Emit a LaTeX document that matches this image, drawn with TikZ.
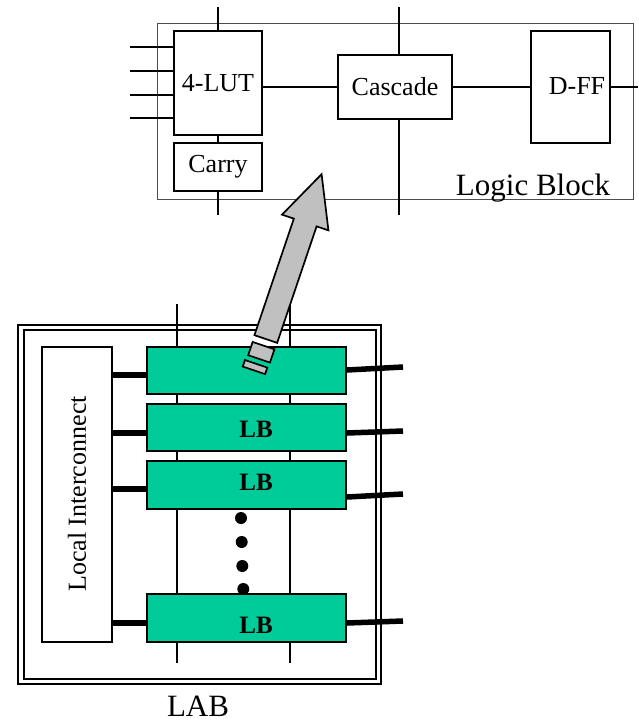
\documentclass[tikz,border=0pt]{standalone}
\usepackage{fontspec}
\setmainfont{Liberation Serif}
\definecolor{lbgreen}{HTML}{00CC99}
\definecolor{arrowgray}{HTML}{C0C0C0}
\begin{document}
\begin{tikzpicture}[x=1pt, y=-1pt,
    blk/.style={draw, line width=1.7pt, fill=white, inner sep=0pt,
                font=\fontsize{26}{28}\selectfont},
    blktext/.style={font=\fontsize{26}{28}\selectfont, inner sep=0pt},
    lbframe/.style={draw=black!70, line width=0.9pt, inner sep=0pt},
    labframe/.style={draw, double, line width=2.2pt,
                     double distance=3.3pt, inner sep=0pt},
    lbbox/.style={draw, fill=lbgreen, line width=2pt, inner sep=0pt,
                  minimum width=199pt},
    lbtext/.style={font=\fontsize{25}{27}\selectfont\bfseries, inner sep=0pt},
    bigtext/.style={font=\fontsize{31}{33}\selectfont, inner sep=0pt},
    wire/.style={line width=1.5pt},
    bus/.style={line width=5.5pt},
    ellipsisdot/.style={circle, fill, inner sep=0pt, minimum size=12pt},
    piece/.style={draw, fill=arrowgray, line width=1.7pt},
]
\useasboundingbox (0,0) rectangle (639,724);

% Logic block -- frame and through wires
\node[lbframe, minimum width=476pt, minimum height=176pt] (lblock) at (395,111) {};
\coordinate (lutTop)   at (218,7);
\coordinate (carryBot) at (218,215);
\coordinate (cascTop)  at (399,7);
\coordinate (cascBot)  at (399,215);
\coordinate (ffOut)    at (638,87);
\draw[wire] (cascTop) -- (cascBot);

% Logic block parts
\node[blk, minimum width=88pt, minimum height=104pt] (lut) at (218,83) {4-LUT};
\node[blk, minimum width=88pt, minimum height=48pt] (carry) at (218,167) {Carry};
\node[blk, minimum width=114pt, minimum height=64pt] (casc) at (395,87) {Cascade};
\node[blk, minimum width=79pt, minimum height=112pt] (dff) at (570.5,87) {};
\node[blktext] (dfftext) at (577,86) {D-FF};
\node[bigtext, anchor=base] (lbname) at (533,195) {Logic Block};

\draw[wire] (lutTop) -- (lut.north);
\draw[wire] (lut.south) -- (carry.north);
\draw[wire] (carry.south) -- (carryBot);
\draw[wire] (casc.west -| lut.east) -- (casc.west);
\draw[wire] (casc.east) -- (casc.east -| dff.west);
\draw[wire] (dff.east |- casc.east) -- (ffOut);
\foreach \y [count=\i] in {47,71,95,118} {
  \coordinate (in\i) at (130,\y);
  \draw[wire] (in\i) -- (in\i -| lut.west);
}

% LAB -- double frame and vertical tracks
\node[labframe, minimum width=357.5pt, minimum height=354pt] (lab) at (199.75,504.5) {};
\foreach \x [count=\i] in {177,290} {
  \coordinate (trTop\i) at (\x,304);
  \coordinate (trBot\i) at (\x,663);
  \draw[wire] (trTop\i) -- (trBot\i);
}

% Local interconnect
\node[blk, line width=2pt, minimum width=70pt, minimum height=295pt] (li) at (77,494.5) {};
\node[blktext, rotate=90] (litext) at (77,494) {Local Interconnect};

% Logic blocks
\node[lbbox, minimum height=47pt] (lb1) at (246.5,370.5) {};
\node[lbbox, minimum height=47pt] (lb2) at (246.5,427.5) {};
\node[lbbox, minimum height=48pt] (lb3) at (246.5,485) {};
\node[lbbox, minimum height=48pt] (lb4) at (246.5,618) {};
\node[lbtext] (lbt2) at (256,429.5) {LB};
\node[lbtext] (lbt3) at (256,482) {LB};
\node[lbtext] (lbt4) at (256,625.5) {LB};

% Buses in and out
\foreach \i/\yl/\yr/\ye in {1/375/370/367, 2/433/433/431, 3/489/497/494, 4/623/623/621} {
  \coordinate (out\i) at (403,\ye);
  \draw[bus] (li.east |- 0,\yl) -- (lb\i.west |- 0,\yl);
  \draw[bus] (lb\i.east |- 0,\yr) -- (out\i);
}

% Ellipsis
\node[ellipsisdot] (dot1) at (241,518) {};
\node[ellipsisdot] (dot2) at (241.7,542) {};
\node[ellipsisdot] (dot3) at (242.3,566) {};
\node[ellipsisdot] (dot4) at (243.3,589) {};

\node[bigtext, anchor=base] (labname) at (198,716.7) {LAB};

% Zoom arrow
\begin{scope}[shift={(265.8,339)}, rotate=71.3]
  \draw[piece] (0,-12) -- (123,-12) -- (123,-24.5) -- (174,0)
               -- (123,24.5) -- (123,12) -- (0,12) -- cycle;
  \draw[piece] (-21,-11.5) rectangle (-7,11.5);
  \draw[piece] (-33.5,-13) rectangle (-26.6,10.6);
\end{scope}

\end{tikzpicture}
\end{document}
